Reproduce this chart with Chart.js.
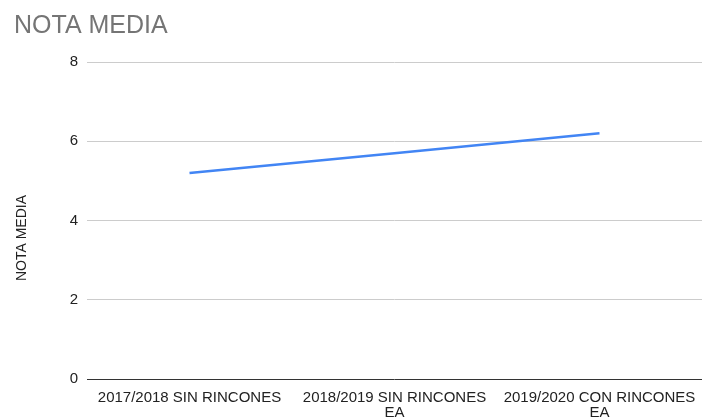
<!DOCTYPE html>
<html>
<head>
<meta charset="utf-8">
<script src="https://cdn.jsdelivr.net/npm/chart.js@4"></script>
<style>
  html, body { margin: 0; padding: 0; background: #fff; }
  #wrap { width: 702px; height: 417px; position: relative; }
</style>
</head>
<body>
<div id="wrap"><canvas id="chart"></canvas></div>
<script>
const chartTitle = 'NOTA MEDIA';
const yAxisTitle = 'NOTA MEDIA';
const categories = [
  ['2017/2018 SIN RINCONES'],
  ['2018/2019 SIN RINCONES', 'EA'],
  ['2019/2020 CON RINCONES', 'EA']
];
const notaMedia = [5.2, 5.7, 6.2];
const yTicks = [0, 2, 4, 6, 8];

const FONT = 'Arial, "Liberation Sans", sans-serif';

// chart title and y axis title drawn at fixed spots, like the original
const titlePlugin = {
  id: 'titles',
  afterDraw(chart) {
    const c = chart.ctx;
    c.save();
    c.fillStyle = '#757575';
    c.font = '25px ' + FONT;
    c.textBaseline = 'alphabetic';
    c.textAlign = 'left';
    c.fillText(chartTitle, 14, 33);

    c.fillStyle = '#222';
    c.font = '14px ' + FONT;
    c.textAlign = 'center';
    c.textBaseline = 'middle';
    c.translate(22, 238);
    c.rotate(-Math.PI / 2);
    c.fillText(yAxisTitle, 0, 0);
    c.restore();
  }
};

const ctx = document.getElementById('chart').getContext('2d');
new Chart(ctx, {
  type: 'line',
  data: {
    labels: categories,
    datasets: [{
      label: chartTitle,
      data: notaMedia,
      borderColor: '#4285F4',
      borderWidth: 2.5,
      pointRadius: 0,
      tension: 0,
      fill: false
    }]
  },
  plugins: [titlePlugin],
  options: {
    responsive: true,
    maintainAspectRatio: false,
    animation: false,
    layout: { padding: { left: 0, right: 0, top: 62, bottom: 0 } },
    plugins: {
      legend: { display: false },
      tooltip: { enabled: false },
      title: { display: false }
    },
    scales: {
      x: {
        offset: true,
        afterFit: scale => { scale.height = 38; },
        grid: { display: false },
        border: { display: false },
        ticks: {
          color: '#222',
          maxRotation: 0,
          autoSkip: false,
          padding: 3,
          font: { family: FONT, size: 15, lineHeight: 1 }
        }
      },
      y: {
        min: 0,
        max: 8,
        afterBuildTicks: scale => { scale.ticks = yTicks.map(v => ({ value: v })); },
        afterFit: scale => { scale.width = 87; },
        border: { display: false },
        grid: {
          color: c => (c.tick && c.tick.value === 0 ? '#333' : '#ccc'),
          drawTicks: false
        },
        ticks: {
          color: '#222',
          padding: 9,
          font: { family: FONT, size: 15 }
        }
      }
    }
  }
});
</script>
</body>
</html>
